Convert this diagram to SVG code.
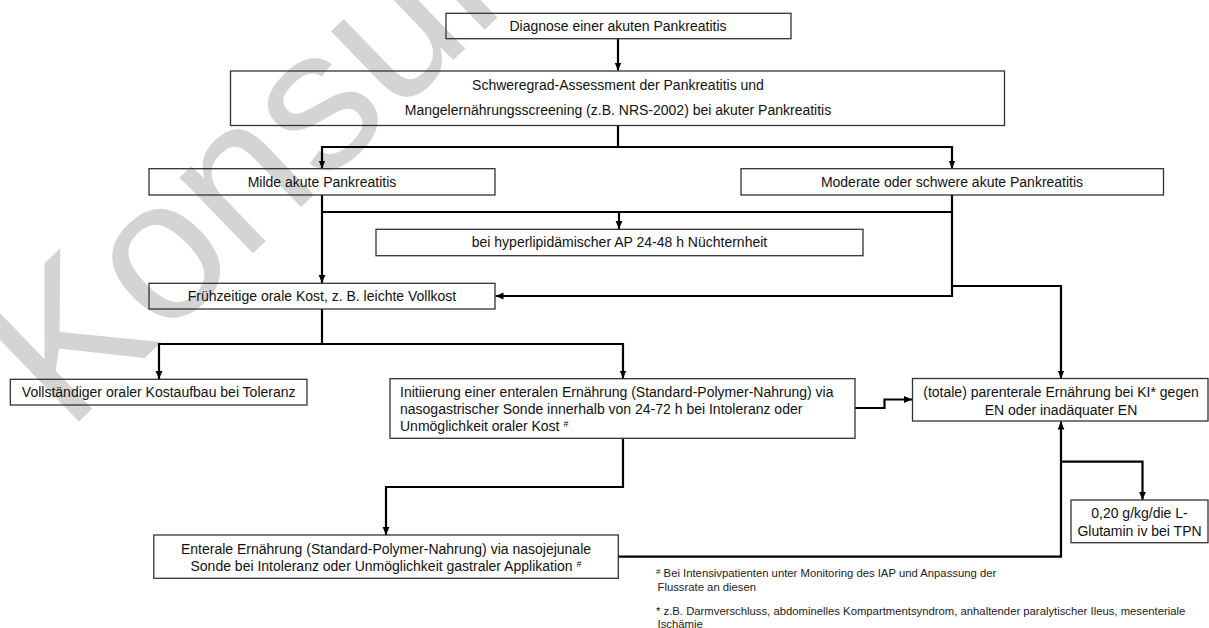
<svg xmlns="http://www.w3.org/2000/svg" width="1209" height="628" viewBox="0 0 1209 628">
<style>
.box{fill:none;stroke:#333;stroke-width:1.3}
.t{font-family:"Liberation Sans",Arial,sans-serif;font-size:14px;fill:#111}
.c{text-anchor:middle}
.fn{font-family:"Liberation Sans",Arial,sans-serif;font-size:11.3px;fill:#222}
.wm{font-family:"Liberation Sans",Arial,sans-serif;font-size:200px;fill:#d4d4d4}
#connectors path{fill:none;stroke:#000;stroke-width:2.2}
</style>
<defs>
<marker id="ah" viewBox="0 0 8 8" refX="8" refY="4" markerWidth="8" markerHeight="8" orient="auto" markerUnits="userSpaceOnUse">
<path d="M0,0.6 L8,4 L0,7.4 z" fill="#000"/>
</marker>
</defs>
<rect width="1209" height="628" fill="#fff"/>
<text class="wm" transform="translate(67,433) rotate(-44)">Konsultation</text>

<g id="connectors">
<path d="M618,38.7 V70.5" marker-end="url(#ah)"/>
<path d="M618,126 V147"/>
<path d="M618,147 H322 V168.5" marker-end="url(#ah)"/>
<path d="M618,147 H952 V168.5" marker-end="url(#ah)"/>
<path d="M322,195 V283" marker-end="url(#ah)"/>
<path d="M322,212 H952"/>
<path d="M619,212 V229" marker-end="url(#ah)"/>
<path d="M952,195 V296 H495.5" marker-end="url(#ah)"/>
<path d="M952,286 H1061 V378.5" marker-end="url(#ah)"/>
<path d="M322,309 V344"/>
<path d="M322,344 H159 V379" marker-end="url(#ah)"/>
<path d="M322,344 H623 V378.5" marker-end="url(#ah)"/>
<path d="M855,408 H884.5 V399.5 H912" marker-end="url(#ah)"/>
<path d="M623,438.5 V487 H386 V535" marker-end="url(#ah)"/>
<path d="M618.5,556.7 H1061 V421.5" marker-end="url(#ah)"/>
<path d="M1061,461.7 H1142.5 V500" marker-end="url(#ah)"/>
</g>

<g id="n-diagnose">
<rect class="box" x="446" y="13.3" width="345" height="25.4"/>
<text class="t c" x="618" y="31">Diagnose einer akuten Pankreatitis</text>
</g>
<g id="n-assessment">
<rect class="box" x="230.5" y="71" width="774" height="54.5"/>
<text class="t c" x="618" y="90">Schweregrad-Assessment der Pankreatitis und</text>
<text class="t c" x="618" y="114.5">Mangelernährungsscreening (z.B. NRS-2002) bei akuter Pankreatitis</text>
</g>
<g id="n-milde">
<rect class="box" x="149" y="168.7" width="346" height="26.3"/>
<text class="t c" x="322" y="187">Milde akute Pankreatitis</text>
</g>
<g id="n-moderate">
<rect class="box" x="741" y="168.7" width="422.5" height="26.3"/>
<text class="t c" x="952" y="187">Moderate oder schwere akute Pankreatitis</text>
</g>
<g id="n-hyper">
<rect class="box" x="376" y="229.3" width="487" height="26.4"/>
<text class="t c" x="619.5" y="247.3">bei hyperlipidämischer AP 24-48 h Nüchternheit</text>
</g>
<g id="n-frueh">
<rect class="box" x="149" y="283.3" width="346" height="25.7"/>
<text class="t c" x="322" y="300.7">Frühzeitige orale Kost, z. B. leichte Vollkost</text>
</g>
<g id="n-voll">
<rect class="box" x="10.3" y="379.3" width="296.7" height="25.7"/>
<text class="t c" x="158.7" y="396.7">Vollständiger oraler Kostaufbau bei Toleranz</text>
</g>
<g id="n-init">
<rect class="box" x="390" y="378.7" width="465" height="59.6"/>
<text class="t" x="400" y="396.5">Initiierung einer enteralen Ernährung (Standard-Polymer-Nahrung) via</text>
<text class="t" x="400" y="413.5">nasogastrischer Sonde innerhalb von 24-72 h bei Intoleranz oder</text>
<text class="t" x="400" y="430.5">Unmöglichkeit oraler Kost <tspan font-size="9" dy="-4">#</tspan></text>
</g>
<g id="n-totale">
<rect class="box" x="912.5" y="378.5" width="295.5" height="42.5"/>
<text class="t c" x="1061" y="397.3">(totale) parenterale Ernährung bei KI* gegen</text>
<text class="t c" x="1061" y="415.2">EN oder inadäquater EN</text>
</g>
<g id="n-enterale">
<rect class="box" x="153.8" y="535" width="464.5" height="43.3"/>
<text class="t c" x="386" y="554">Enterale Ernährung (Standard-Polymer-Nahrung) via nasojejunale</text>
<text class="t c" x="386" y="571">Sonde bei Intoleranz oder Unmöglichkeit gastraler Applikation <tspan font-size="9" dy="-4">#</tspan></text>
</g>
<g id="n-glutamin">
<rect class="box" x="1071" y="500" width="137" height="42.7"/>
<text class="t c" x="1139.5" y="518.3">0,20 g/kg/die L-</text>
<text class="t c" x="1139.5" y="535.7">Glutamin iv bei TPN</text>
</g>
<g id="footnotes">
<text class="fn" x="656" y="577.3"><tspan font-size="8" dy="-3">#</tspan><tspan dy="3"> Bei Intensivpatienten unter Monitoring des IAP und Anpassung der</tspan></text>
<text class="fn" x="657.5" y="590.7">Flussrate an diesen</text>
<text class="fn" x="656" y="614.7">* z.B. Darmverschluss, abdominelles Kompartmentsyndrom, anhaltender paralytischer Ileus, mesenteriale</text>
<text class="fn" x="657.5" y="628">Ischämie</text>
</g>
</svg>
